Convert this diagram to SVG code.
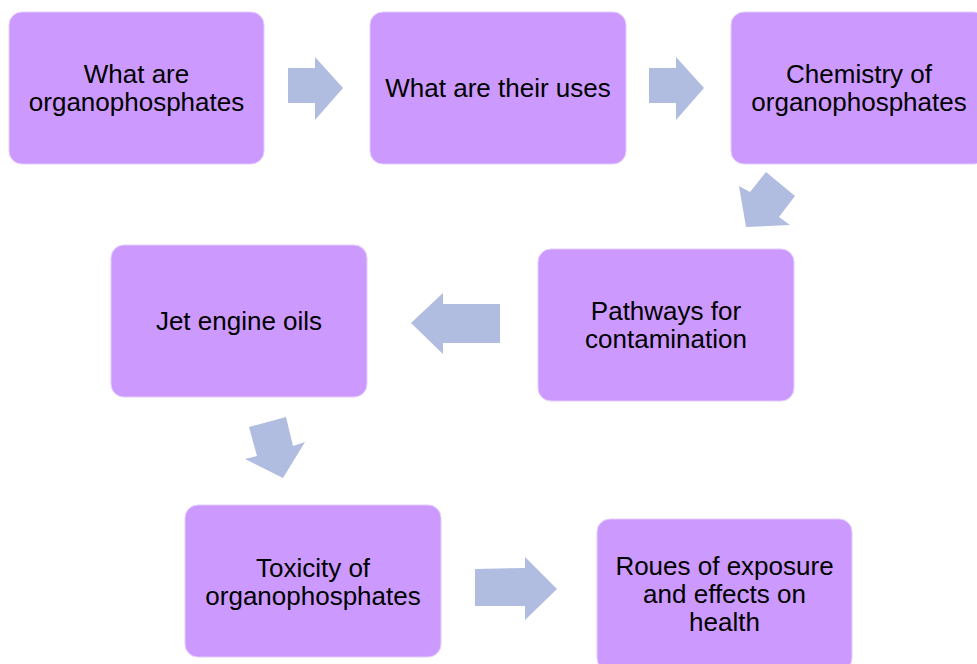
<svg xmlns="http://www.w3.org/2000/svg" width="977" height="664" viewBox="0 0 977 664">
<style>
.box{fill:#CC99FF;stroke:#E3CCFF;stroke-width:1}
.arr{fill:#B0BCE0}
text{font-family:"Liberation Sans",Arial,sans-serif;font-size:26px;fill:#000;text-anchor:middle}
</style>
<rect width="977" height="664" fill="#fff"/>
<g id="connectors">
<polygon class="arr" points="288,68 315,68 315,57 343,88 315,120 315,103 288,103"/>
<polygon class="arr" points="649,68 676,68 676,57 704,88 676,120 676,103 649,103"/>
<polygon class="arr" points="766,172 795,196 779,217 790,225 746,227 739,186 750,192"/>
<polygon class="arr" points="500,304 443,304 443,293 411,323 443,354 443,343 500,343"/>
<polygon class="arr" points="249,427 286,417 293,446 305,442 283,478 245,459 257,456"/>
<polygon class="arr" points="475,569 525,568 525,557 557,589 525,620 525,606 475,606"/>
</g>
<g id="n1"><rect class="box" x="9" y="12" width="255" height="152" rx="13"/><text x="136.5" y="83">What are</text><text x="136.5" y="111">organophosphates</text></g>
<g id="n2"><rect class="box" x="370" y="12" width="256" height="152" rx="13"/><text x="498" y="97">What are their uses</text></g>
<g id="n3"><rect class="box" x="731" y="12" width="256" height="152" rx="13"/><text x="859" y="83">Chemistry of</text><text x="859" y="111">organophosphates</text></g>
<g id="n4"><rect class="box" x="538" y="249" width="256" height="152" rx="13"/><text x="666" y="320">Pathways for</text><text x="666" y="348">contamination</text></g>
<g id="n5"><rect class="box" x="111" y="245" width="256" height="152" rx="13"/><text x="239" y="330">Jet engine oils</text></g>
<g id="n6"><rect class="box" x="185" y="505" width="256" height="152" rx="13"/><text x="313" y="577">Toxicity of</text><text x="313" y="605">organophosphates</text></g>
<g id="n7"><rect class="box" x="597" y="519" width="255" height="152" rx="13"/><text x="724.5" y="575">Roues of exposure</text><text x="724.5" y="603">and effects on</text><text x="724.5" y="631">health</text></g>
</svg>
